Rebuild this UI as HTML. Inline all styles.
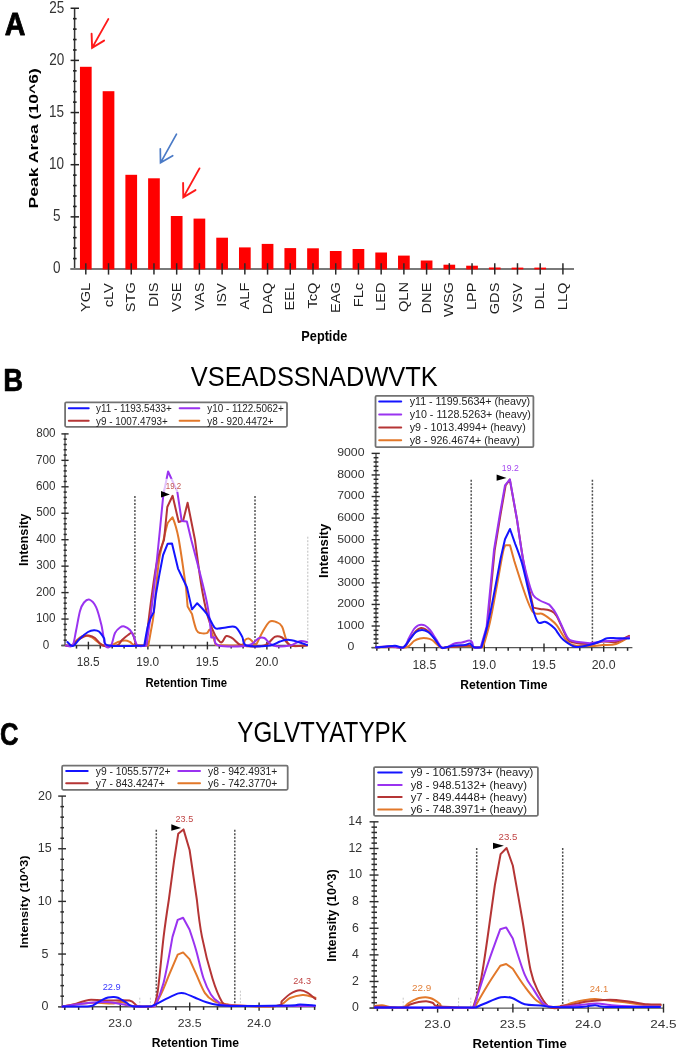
<!DOCTYPE html>
<html><head><meta charset="utf-8"><title>Figure</title>
<style>
html,body{margin:0;padding:0;background:#fff;}
body{width:677px;height:1050px;overflow:hidden;}
svg{display:block;font-family:"Liberation Sans",sans-serif;will-change:transform;filter:blur(0.35px);}
</style></head><body>
<svg width="677" height="1050" viewBox="0 0 677 1050">
<rect x="0" y="0" width="677" height="1050" fill="#fff"/>
<text transform="translate(4.68,35.20) scale(0.8989,1)" font-size="31.83" fill="#000" font-weight="bold" stroke="#000" stroke-width="0.8" stroke-linejoin="round">A</text>
<line x1="74.60" y1="8.40" x2="74.60" y2="269.00" stroke="#333" stroke-width="1.5"/>
<line x1="70.60" y1="269.00" x2="79.00" y2="269.00" stroke="#222" stroke-width="1.5"/>
<line x1="73.00" y1="258.57" x2="76.60" y2="258.57" stroke="#222" stroke-width="1.6"/>
<line x1="73.00" y1="248.14" x2="76.60" y2="248.14" stroke="#222" stroke-width="1.6"/>
<line x1="73.00" y1="237.71" x2="76.60" y2="237.71" stroke="#222" stroke-width="1.6"/>
<line x1="73.00" y1="227.28" x2="76.60" y2="227.28" stroke="#222" stroke-width="1.6"/>
<line x1="70.60" y1="216.85" x2="79.00" y2="216.85" stroke="#222" stroke-width="1.5"/>
<line x1="73.00" y1="206.42" x2="76.60" y2="206.42" stroke="#222" stroke-width="1.6"/>
<line x1="73.00" y1="195.99" x2="76.60" y2="195.99" stroke="#222" stroke-width="1.6"/>
<line x1="73.00" y1="185.56" x2="76.60" y2="185.56" stroke="#222" stroke-width="1.6"/>
<line x1="73.00" y1="175.13" x2="76.60" y2="175.13" stroke="#222" stroke-width="1.6"/>
<line x1="70.60" y1="164.70" x2="79.00" y2="164.70" stroke="#222" stroke-width="1.5"/>
<line x1="73.00" y1="154.27" x2="76.60" y2="154.27" stroke="#222" stroke-width="1.6"/>
<line x1="73.00" y1="143.84" x2="76.60" y2="143.84" stroke="#222" stroke-width="1.6"/>
<line x1="73.00" y1="133.41" x2="76.60" y2="133.41" stroke="#222" stroke-width="1.6"/>
<line x1="73.00" y1="122.98" x2="76.60" y2="122.98" stroke="#222" stroke-width="1.6"/>
<line x1="70.60" y1="112.55" x2="79.00" y2="112.55" stroke="#222" stroke-width="1.5"/>
<line x1="73.00" y1="102.12" x2="76.60" y2="102.12" stroke="#222" stroke-width="1.6"/>
<line x1="73.00" y1="91.69" x2="76.60" y2="91.69" stroke="#222" stroke-width="1.6"/>
<line x1="73.00" y1="81.26" x2="76.60" y2="81.26" stroke="#222" stroke-width="1.6"/>
<line x1="73.00" y1="70.83" x2="76.60" y2="70.83" stroke="#222" stroke-width="1.6"/>
<line x1="70.60" y1="60.40" x2="79.00" y2="60.40" stroke="#222" stroke-width="1.5"/>
<line x1="73.00" y1="49.97" x2="76.60" y2="49.97" stroke="#222" stroke-width="1.6"/>
<line x1="73.00" y1="39.54" x2="76.60" y2="39.54" stroke="#222" stroke-width="1.6"/>
<line x1="73.00" y1="29.11" x2="76.60" y2="29.11" stroke="#222" stroke-width="1.6"/>
<line x1="73.00" y1="18.68" x2="76.60" y2="18.68" stroke="#222" stroke-width="1.6"/>
<line x1="70.60" y1="8.25" x2="79.00" y2="8.25" stroke="#222" stroke-width="1.5"/>
<text transform="translate(53.04,273.39) scale(0.8329,1)" font-size="16.24" fill="#333">0</text>
<text transform="translate(53.05,221.16) scale(0.8329,1)" font-size="16.24" fill="#333">5</text>
<text transform="translate(49.03,169.09) scale(0.8329,1)" font-size="16.24" fill="#333">10</text>
<text transform="translate(49.05,116.86) scale(0.8329,1)" font-size="16.24" fill="#333">15</text>
<text transform="translate(49.20,64.79) scale(0.8329,1)" font-size="16.24" fill="#333">20</text>
<text transform="translate(49.22,12.64) scale(0.8329,1)" font-size="16.24" fill="#333">25</text>
<line x1="70.60" y1="269.00" x2="574.00" y2="269.00" stroke="#7a7a7a" stroke-width="2.0"/>
<rect x="79.95" y="66.80" width="11.7" height="202.60" fill="#ff0000"/>
<rect x="102.67" y="91.20" width="11.7" height="178.20" fill="#ff0000"/>
<rect x="125.39" y="174.80" width="11.7" height="94.60" fill="#ff0000"/>
<rect x="148.11" y="178.30" width="11.7" height="91.10" fill="#ff0000"/>
<rect x="170.83" y="216.00" width="11.7" height="53.40" fill="#ff0000"/>
<rect x="193.55" y="218.60" width="11.7" height="50.80" fill="#ff0000"/>
<rect x="216.27" y="237.70" width="11.7" height="31.70" fill="#ff0000"/>
<rect x="238.99" y="247.40" width="11.7" height="22.00" fill="#ff0000"/>
<rect x="261.71" y="243.90" width="11.7" height="25.50" fill="#ff0000"/>
<rect x="284.43" y="248.10" width="11.7" height="21.30" fill="#ff0000"/>
<rect x="307.15" y="248.30" width="11.7" height="21.10" fill="#ff0000"/>
<rect x="329.87" y="251.00" width="11.7" height="18.40" fill="#ff0000"/>
<rect x="352.59" y="249.00" width="11.7" height="20.40" fill="#ff0000"/>
<rect x="375.31" y="252.50" width="11.7" height="16.90" fill="#ff0000"/>
<rect x="398.03" y="255.60" width="11.7" height="13.80" fill="#ff0000"/>
<rect x="420.75" y="260.50" width="11.7" height="8.90" fill="#ff0000"/>
<rect x="443.47" y="264.70" width="11.7" height="4.70" fill="#ff0000"/>
<rect x="466.19" y="265.70" width="11.7" height="3.70" fill="#ff0000"/>
<rect x="488.91" y="267.50" width="11.7" height="1.90" fill="#ff0000"/>
<rect x="511.63" y="267.60" width="11.7" height="1.80" fill="#ff0000"/>
<rect x="534.35" y="267.60" width="11.7" height="1.80" fill="#ff0000"/>
<line x1="85.80" y1="263.20" x2="85.80" y2="274.60" stroke="#2a2a2a" stroke-width="1.5"/>
<line x1="108.52" y1="263.20" x2="108.52" y2="274.60" stroke="#2a2a2a" stroke-width="1.5"/>
<line x1="131.24" y1="263.20" x2="131.24" y2="274.60" stroke="#2a2a2a" stroke-width="1.5"/>
<line x1="153.96" y1="263.20" x2="153.96" y2="274.60" stroke="#2a2a2a" stroke-width="1.5"/>
<line x1="176.68" y1="263.20" x2="176.68" y2="274.60" stroke="#2a2a2a" stroke-width="1.5"/>
<line x1="199.40" y1="263.20" x2="199.40" y2="274.60" stroke="#2a2a2a" stroke-width="1.5"/>
<line x1="222.12" y1="263.20" x2="222.12" y2="274.60" stroke="#2a2a2a" stroke-width="1.5"/>
<line x1="244.84" y1="263.20" x2="244.84" y2="274.60" stroke="#2a2a2a" stroke-width="1.5"/>
<line x1="267.56" y1="263.20" x2="267.56" y2="274.60" stroke="#2a2a2a" stroke-width="1.5"/>
<line x1="290.28" y1="263.20" x2="290.28" y2="274.60" stroke="#2a2a2a" stroke-width="1.5"/>
<line x1="313.00" y1="263.20" x2="313.00" y2="274.60" stroke="#2a2a2a" stroke-width="1.5"/>
<line x1="335.72" y1="263.20" x2="335.72" y2="274.60" stroke="#2a2a2a" stroke-width="1.5"/>
<line x1="358.44" y1="263.20" x2="358.44" y2="274.60" stroke="#2a2a2a" stroke-width="1.5"/>
<line x1="381.16" y1="263.20" x2="381.16" y2="274.60" stroke="#2a2a2a" stroke-width="1.5"/>
<line x1="403.88" y1="263.20" x2="403.88" y2="274.60" stroke="#2a2a2a" stroke-width="1.5"/>
<line x1="426.60" y1="263.20" x2="426.60" y2="274.60" stroke="#2a2a2a" stroke-width="1.5"/>
<line x1="449.32" y1="263.20" x2="449.32" y2="274.60" stroke="#2a2a2a" stroke-width="1.5"/>
<line x1="472.04" y1="263.20" x2="472.04" y2="274.60" stroke="#2a2a2a" stroke-width="1.5"/>
<line x1="494.76" y1="263.20" x2="494.76" y2="274.60" stroke="#2a2a2a" stroke-width="1.5"/>
<line x1="517.48" y1="263.20" x2="517.48" y2="274.60" stroke="#2a2a2a" stroke-width="1.5"/>
<line x1="540.20" y1="263.20" x2="540.20" y2="274.60" stroke="#2a2a2a" stroke-width="1.5"/>
<line x1="562.92" y1="263.20" x2="562.92" y2="274.60" stroke="#2a2a2a" stroke-width="1.5"/>
<text transform="translate(89.90,312.02) rotate(-90) scale(1.1450,1)" font-size="12.79" fill="#222">YGL</text>
<text transform="translate(112.62,307.28) rotate(-90) scale(1.1450,1)" font-size="12.79" fill="#222">cLV</text>
<text transform="translate(135.34,312.21) rotate(-90) scale(1.1450,1)" font-size="12.79" fill="#222">STG</text>
<text transform="translate(158.06,306.94) rotate(-90) scale(1.1450,1)" font-size="12.79" fill="#222">DIS</text>
<text transform="translate(180.78,311.88) rotate(-90) scale(1.1450,1)" font-size="12.79" fill="#222">VSE</text>
<text transform="translate(203.50,310.75) rotate(-90) scale(1.1450,1)" font-size="12.79" fill="#222">VAS</text>
<text transform="translate(226.22,306.74) rotate(-90) scale(1.1450,1)" font-size="12.79" fill="#222">ISV</text>
<text transform="translate(248.94,309.47) rotate(-90) scale(1.1450,1)" font-size="12.79" fill="#222">ALF</text>
<text transform="translate(271.66,314.23) rotate(-90) scale(1.1450,1)" font-size="12.79" fill="#222">DAQ</text>
<text transform="translate(294.38,310.40) rotate(-90) scale(1.1450,1)" font-size="12.79" fill="#222">EEL</text>
<text transform="translate(317.10,308.54) rotate(-90) scale(1.1450,1)" font-size="12.79" fill="#222">TcQ</text>
<text transform="translate(339.82,313.03) rotate(-90) scale(1.1450,1)" font-size="12.79" fill="#222">EAG</text>
<text transform="translate(362.54,307.23) rotate(-90) scale(1.1450,1)" font-size="12.79" fill="#222">FLc</text>
<text transform="translate(385.26,310.98) rotate(-90) scale(1.1450,1)" font-size="12.79" fill="#222">LED</text>
<text transform="translate(407.98,312.12) rotate(-90) scale(1.1450,1)" font-size="12.79" fill="#222">QLN</text>
<text transform="translate(430.70,313.49) rotate(-90) scale(1.1450,1)" font-size="12.79" fill="#222">DNE</text>
<text transform="translate(453.42,317.09) rotate(-90) scale(1.1450,1)" font-size="12.79" fill="#222">WSG</text>
<text transform="translate(476.14,310.10) rotate(-90) scale(1.1450,1)" font-size="12.79" fill="#222">LPP</text>
<text transform="translate(498.86,314.26) rotate(-90) scale(1.1450,1)" font-size="12.79" fill="#222">GDS</text>
<text transform="translate(521.58,312.43) rotate(-90) scale(1.1450,1)" font-size="12.79" fill="#222">VSV</text>
<text transform="translate(544.30,309.58) rotate(-90) scale(1.1450,1)" font-size="12.79" fill="#222">DLL</text>
<text transform="translate(567.02,310.18) rotate(-90) scale(1.1450,1)" font-size="12.79" fill="#222">LLQ</text>
<text transform="translate(301.35,341.48) scale(0.8466,1)" font-size="15.01" fill="#000" font-weight="bold">Peptide</text>
<text transform="translate(38.04,208.48) rotate(-90) scale(1.4241,1)" font-size="12.33" fill="#000" font-weight="bold">Peak Area (10^6)</text>
<path d="M108.3,19.1 L92.1,47.9 M91.6,33.7 L92.1,47.9 L104.1,40.6" fill="none" stroke="#ff1a1a" stroke-width="1.9" stroke-linecap="round" stroke-linejoin="miter"/>
<path d="M176.5,134.2 L160.5,162.8 M160.3,148.8 L160.5,162.8 L172.7,155.7" fill="none" stroke="#4a7ac6" stroke-width="1.7" stroke-linecap="round" stroke-linejoin="miter"/>
<path d="M199.5,168.4 L183.3,197.4 M183.1,183.0 L183.3,197.4 L195.5,190.1" fill="none" stroke="#ff1a1a" stroke-width="1.9" stroke-linecap="round" stroke-linejoin="miter"/>
<text transform="translate(3.35,391.40) scale(0.8938,1)" font-size="30.81" fill="#000" font-weight="bold" stroke="#000" stroke-width="0.6" stroke-linejoin="round">B</text>
<text transform="translate(190.77,386.32) scale(0.8993,1)" font-size="28.25" fill="#000">VSEADSSNADWVTK</text>
<line x1="65.00" y1="433.60" x2="65.00" y2="645.50" stroke="#555" stroke-width="1.4"/>
<line x1="61.40" y1="645.50" x2="68.60" y2="645.50" stroke="#2a2a2a" stroke-width="1.4"/>
<text transform="translate(42.66,648.68) scale(0.9603,1)" font-size="12.15" fill="#333">0</text>
<line x1="63.60" y1="640.21" x2="66.80" y2="640.21" stroke="#2a2a2a" stroke-width="1.5"/>
<line x1="63.60" y1="634.92" x2="66.80" y2="634.92" stroke="#2a2a2a" stroke-width="1.5"/>
<line x1="63.60" y1="629.63" x2="66.80" y2="629.63" stroke="#2a2a2a" stroke-width="1.5"/>
<line x1="63.60" y1="624.34" x2="66.80" y2="624.34" stroke="#2a2a2a" stroke-width="1.5"/>
<line x1="61.40" y1="619.05" x2="68.60" y2="619.05" stroke="#2a2a2a" stroke-width="1.4"/>
<text transform="translate(35.96,622.23) scale(0.9603,1)" font-size="12.15" fill="#333">100</text>
<line x1="63.60" y1="613.76" x2="66.80" y2="613.76" stroke="#2a2a2a" stroke-width="1.5"/>
<line x1="63.60" y1="608.47" x2="66.80" y2="608.47" stroke="#2a2a2a" stroke-width="1.5"/>
<line x1="63.60" y1="603.18" x2="66.80" y2="603.18" stroke="#2a2a2a" stroke-width="1.5"/>
<line x1="63.60" y1="597.89" x2="66.80" y2="597.89" stroke="#2a2a2a" stroke-width="1.5"/>
<line x1="61.40" y1="592.60" x2="68.60" y2="592.60" stroke="#2a2a2a" stroke-width="1.4"/>
<text transform="translate(36.11,595.78) scale(0.9603,1)" font-size="12.15" fill="#333">200</text>
<line x1="63.60" y1="587.31" x2="66.80" y2="587.31" stroke="#2a2a2a" stroke-width="1.5"/>
<line x1="63.60" y1="582.02" x2="66.80" y2="582.02" stroke="#2a2a2a" stroke-width="1.5"/>
<line x1="63.60" y1="576.73" x2="66.80" y2="576.73" stroke="#2a2a2a" stroke-width="1.5"/>
<line x1="63.60" y1="571.44" x2="66.80" y2="571.44" stroke="#2a2a2a" stroke-width="1.5"/>
<line x1="61.40" y1="566.15" x2="68.60" y2="566.15" stroke="#2a2a2a" stroke-width="1.4"/>
<text transform="translate(36.18,569.33) scale(0.9603,1)" font-size="12.15" fill="#333">300</text>
<line x1="63.60" y1="560.86" x2="66.80" y2="560.86" stroke="#2a2a2a" stroke-width="1.5"/>
<line x1="63.60" y1="555.57" x2="66.80" y2="555.57" stroke="#2a2a2a" stroke-width="1.5"/>
<line x1="63.60" y1="550.28" x2="66.80" y2="550.28" stroke="#2a2a2a" stroke-width="1.5"/>
<line x1="63.60" y1="544.99" x2="66.80" y2="544.99" stroke="#2a2a2a" stroke-width="1.5"/>
<line x1="61.40" y1="539.70" x2="68.60" y2="539.70" stroke="#2a2a2a" stroke-width="1.4"/>
<text transform="translate(36.27,542.88) scale(0.9603,1)" font-size="12.15" fill="#333">400</text>
<line x1="63.60" y1="534.41" x2="66.80" y2="534.41" stroke="#2a2a2a" stroke-width="1.5"/>
<line x1="63.60" y1="529.12" x2="66.80" y2="529.12" stroke="#2a2a2a" stroke-width="1.5"/>
<line x1="63.60" y1="523.83" x2="66.80" y2="523.83" stroke="#2a2a2a" stroke-width="1.5"/>
<line x1="63.60" y1="518.54" x2="66.80" y2="518.54" stroke="#2a2a2a" stroke-width="1.5"/>
<line x1="61.40" y1="513.25" x2="68.60" y2="513.25" stroke="#2a2a2a" stroke-width="1.4"/>
<text transform="translate(36.17,516.43) scale(0.9603,1)" font-size="12.15" fill="#333">500</text>
<line x1="63.60" y1="507.96" x2="66.80" y2="507.96" stroke="#2a2a2a" stroke-width="1.5"/>
<line x1="63.60" y1="502.67" x2="66.80" y2="502.67" stroke="#2a2a2a" stroke-width="1.5"/>
<line x1="63.60" y1="497.38" x2="66.80" y2="497.38" stroke="#2a2a2a" stroke-width="1.5"/>
<line x1="63.60" y1="492.09" x2="66.80" y2="492.09" stroke="#2a2a2a" stroke-width="1.5"/>
<line x1="61.40" y1="486.80" x2="68.60" y2="486.80" stroke="#2a2a2a" stroke-width="1.4"/>
<text transform="translate(36.10,489.98) scale(0.9603,1)" font-size="12.15" fill="#333">600</text>
<line x1="63.60" y1="481.51" x2="66.80" y2="481.51" stroke="#2a2a2a" stroke-width="1.5"/>
<line x1="63.60" y1="476.22" x2="66.80" y2="476.22" stroke="#2a2a2a" stroke-width="1.5"/>
<line x1="63.60" y1="470.93" x2="66.80" y2="470.93" stroke="#2a2a2a" stroke-width="1.5"/>
<line x1="63.60" y1="465.64" x2="66.80" y2="465.64" stroke="#2a2a2a" stroke-width="1.5"/>
<line x1="61.40" y1="460.35" x2="68.60" y2="460.35" stroke="#2a2a2a" stroke-width="1.4"/>
<text transform="translate(36.10,463.53) scale(0.9603,1)" font-size="12.15" fill="#333">700</text>
<line x1="63.60" y1="455.06" x2="66.80" y2="455.06" stroke="#2a2a2a" stroke-width="1.5"/>
<line x1="63.60" y1="449.77" x2="66.80" y2="449.77" stroke="#2a2a2a" stroke-width="1.5"/>
<line x1="63.60" y1="444.48" x2="66.80" y2="444.48" stroke="#2a2a2a" stroke-width="1.5"/>
<line x1="63.60" y1="439.19" x2="66.80" y2="439.19" stroke="#2a2a2a" stroke-width="1.5"/>
<line x1="61.40" y1="433.90" x2="68.60" y2="433.90" stroke="#2a2a2a" stroke-width="1.4"/>
<text transform="translate(36.15,437.08) scale(0.9603,1)" font-size="12.15" fill="#333">800</text>
<line x1="61.40" y1="645.50" x2="308.00" y2="645.50" stroke="#555" stroke-width="1.4"/>
<line x1="76.50" y1="645.50" x2="76.50" y2="648.60" stroke="#2a2a2a" stroke-width="1.5"/>
<line x1="88.40" y1="641.70" x2="88.40" y2="649.40" stroke="#2a2a2a" stroke-width="1.4"/>
<line x1="100.30" y1="645.50" x2="100.30" y2="648.60" stroke="#2a2a2a" stroke-width="1.5"/>
<line x1="112.20" y1="645.50" x2="112.20" y2="648.60" stroke="#2a2a2a" stroke-width="1.5"/>
<line x1="124.10" y1="645.50" x2="124.10" y2="648.60" stroke="#2a2a2a" stroke-width="1.5"/>
<line x1="136.00" y1="645.50" x2="136.00" y2="648.60" stroke="#2a2a2a" stroke-width="1.5"/>
<line x1="147.90" y1="641.70" x2="147.90" y2="649.40" stroke="#2a2a2a" stroke-width="1.4"/>
<line x1="159.80" y1="645.50" x2="159.80" y2="648.60" stroke="#2a2a2a" stroke-width="1.5"/>
<line x1="171.70" y1="645.50" x2="171.70" y2="648.60" stroke="#2a2a2a" stroke-width="1.5"/>
<line x1="183.60" y1="645.50" x2="183.60" y2="648.60" stroke="#2a2a2a" stroke-width="1.5"/>
<line x1="195.50" y1="645.50" x2="195.50" y2="648.60" stroke="#2a2a2a" stroke-width="1.5"/>
<line x1="207.40" y1="641.70" x2="207.40" y2="649.40" stroke="#2a2a2a" stroke-width="1.4"/>
<line x1="219.30" y1="645.50" x2="219.30" y2="648.60" stroke="#2a2a2a" stroke-width="1.5"/>
<line x1="231.20" y1="645.50" x2="231.20" y2="648.60" stroke="#2a2a2a" stroke-width="1.5"/>
<line x1="243.10" y1="645.50" x2="243.10" y2="648.60" stroke="#2a2a2a" stroke-width="1.5"/>
<line x1="255.00" y1="645.50" x2="255.00" y2="648.60" stroke="#2a2a2a" stroke-width="1.5"/>
<line x1="266.90" y1="641.70" x2="266.90" y2="649.40" stroke="#2a2a2a" stroke-width="1.4"/>
<line x1="278.80" y1="645.50" x2="278.80" y2="648.60" stroke="#2a2a2a" stroke-width="1.5"/>
<line x1="290.70" y1="645.50" x2="290.70" y2="648.60" stroke="#2a2a2a" stroke-width="1.5"/>
<line x1="302.60" y1="645.50" x2="302.60" y2="648.60" stroke="#2a2a2a" stroke-width="1.5"/>
<text transform="translate(76.70,666.37) scale(0.8900,1)" font-size="13.28" fill="#333">18.5</text>
<text transform="translate(136.18,666.37) scale(0.8900,1)" font-size="13.28" fill="#333">19.0</text>
<text transform="translate(195.70,666.37) scale(0.8900,1)" font-size="13.28" fill="#333">19.5</text>
<text transform="translate(255.34,666.37) scale(0.8900,1)" font-size="13.28" fill="#333">20.0</text>
<text transform="translate(145.44,686.67) scale(0.8677,1)" font-size="13.06" fill="#000" font-weight="bold">Retention Time</text>
<text transform="translate(28.07,566.05) rotate(-90) scale(0.9947,1)" font-size="12.79" fill="#000" font-weight="bold">Intensity</text>
<line x1="134.90" y1="495.90" x2="134.90" y2="645.50" stroke="#505050" stroke-width="1.5" stroke-dasharray="2 1.5"/>
<line x1="255.00" y1="495.90" x2="255.00" y2="645.50" stroke="#505050" stroke-width="1.5" stroke-dasharray="2 1.5"/>
<line x1="307.80" y1="536.70" x2="307.80" y2="645.50" stroke="#bdbdbd" stroke-width="1.0" stroke-dasharray="2 1.5"/>
<path d="M66.00,645.50 C67.00,645.50 70.17,646.42 72.00,645.50 C73.83,644.58 75.30,641.55 77.00,640.00 C78.70,638.45 80.62,636.95 82.20,636.20 C83.78,635.45 84.87,635.28 86.50,635.50 C88.13,635.72 89.92,636.25 92.00,637.50 C94.08,638.75 97.00,641.67 99.00,643.00 C101.00,644.33 102.00,645.08 104.00,645.50 C106.00,645.92 108.67,646.08 111.00,645.50 C113.33,644.92 115.67,642.83 118.00,642.00 C120.33,641.17 123.00,640.50 125.00,640.50 C127.00,640.50 128.28,641.17 130.00,642.00 C131.72,642.83 132.25,644.92 135.30,645.50 C138.35,646.08 148.30,645.50 148.30,645.50 C148.30,645.50 149.90,636.95 150.80,631.70 C151.70,626.45 152.62,623.45 153.70,614.00 C154.78,604.55 156.32,584.50 157.30,575.00 C158.28,565.50 158.57,562.83 159.60,557.00 C160.63,551.17 162.22,545.45 163.50,540.00 C164.78,534.55 166.40,527.38 167.30,524.30 C168.20,521.22 168.02,522.67 168.90,521.50 C169.78,520.33 172.60,517.30 172.60,517.30 C172.60,517.30 176.25,526.10 178.50,538.00 C180.75,549.90 186.10,588.70 186.10,588.70 C186.10,588.70 187.60,606.50 187.60,606.50 C187.60,606.50 192.00,613.90 192.00,613.90 C192.00,613.90 195.02,626.90 196.50,630.10 C197.98,633.30 199.18,632.60 200.90,633.10 C202.62,633.60 205.20,633.60 206.80,633.10 C208.40,632.60 209.02,628.12 210.50,630.10 C211.98,632.08 215.70,645.00 215.70,645.00 C215.70,645.00 236.12,645.83 241.00,645.00 C245.88,644.17 243.75,641.08 245.00,640.00 C246.25,638.92 247.33,638.33 248.50,638.50 C249.67,638.67 250.83,639.83 252.00,641.00 C253.17,642.17 253.83,646.83 255.50,645.50 C257.17,644.17 259.67,636.97 262.00,633.00 C264.33,629.03 267.15,623.53 269.50,621.70 C271.85,619.87 274.02,621.20 276.10,622.00 C278.18,622.80 279.78,622.67 282.00,626.50 C284.22,630.33 285.23,641.92 289.40,645.00 C293.57,648.08 304.07,645.00 307.00,645.00" fill="none" stroke="#e2782a" stroke-width="2.0" stroke-linejoin="round" stroke-linecap="round"/>
<path d="M66.00,645.50 C67.00,645.50 70.00,646.42 72.00,645.50 C74.00,644.58 76.00,641.50 78.00,640.00 C80.00,638.50 82.20,637.23 84.00,636.50 C85.80,635.77 86.97,635.35 88.80,635.60 C90.63,635.85 92.67,636.35 95.00,638.00 C97.33,639.65 99.15,644.25 102.80,645.50 C106.45,646.75 113.70,646.42 116.90,645.50 C120.10,644.58 120.15,641.75 122.00,640.00 C123.85,638.25 126.27,636.10 128.00,635.00 C129.73,633.90 131.07,631.65 132.40,633.40 C133.73,635.15 136.00,645.50 136.00,645.50 C136.00,645.50 145.60,645.50 145.60,645.50 C145.60,645.50 149.70,610.92 151.60,597.00 C153.50,583.08 154.93,571.50 157.00,562.00 C159.07,552.50 164.00,540.00 164.00,540.00 C164.00,540.00 167.30,507.00 167.30,507.00 C167.30,507.00 172.60,495.80 172.60,495.80 C172.60,495.80 178.70,522.00 178.70,522.00 C178.70,522.00 183.20,520.50 183.20,520.50 C183.20,520.50 187.60,502.80 187.60,502.80 C187.60,502.80 195.00,540.00 195.00,540.00 C195.00,540.00 199.93,577.92 202.40,591.70 C204.87,605.48 206.85,614.32 209.80,622.70 C212.75,631.08 217.35,639.78 220.10,642.00 C222.85,644.22 224.22,636.62 226.30,636.00 C228.38,635.38 229.98,636.72 232.60,638.30 C235.22,639.88 236.72,644.30 242.00,645.50 C247.28,646.70 258.85,646.95 264.30,645.50 C269.75,644.05 271.75,638.13 274.70,636.80 C277.65,635.47 279.28,636.05 282.00,637.50 C284.72,638.95 286.83,644.17 291.00,645.50 C295.17,646.83 304.33,645.50 307.00,645.50" fill="none" stroke="#b53535" stroke-width="2.0" stroke-linejoin="round" stroke-linecap="round"/>
<path d="M66.00,645.50 C67.10,645.50 70.93,647.92 72.60,645.50 C74.27,643.08 74.77,636.75 76.00,631.00 C77.23,625.25 78.67,615.75 80.00,611.00 C81.33,606.25 82.42,604.40 84.00,602.50 C85.58,600.60 87.47,598.80 89.50,599.60 C91.53,600.40 94.22,603.07 96.20,607.30 C98.18,611.53 99.85,618.63 101.40,625.00 C102.95,631.37 103.90,642.08 105.50,645.50 C107.10,648.92 109.42,647.58 111.00,645.50 C112.58,643.42 113.50,636.00 115.00,633.00 C116.50,630.00 118.45,628.58 120.00,627.50 C121.55,626.42 122.63,626.08 124.30,626.50 C125.97,626.92 128.38,628.25 130.00,630.00 C131.62,631.75 132.75,634.42 134.00,637.00 C135.25,639.58 135.43,644.08 137.50,645.50 C139.57,646.92 146.40,645.50 146.40,645.50 C146.40,645.50 150.52,617.58 152.60,600.00 C154.68,582.42 157.13,557.33 158.90,540.00 C160.67,522.67 163.20,496.00 163.20,496.00 C163.20,496.00 168.10,471.50 168.10,471.50 C168.10,471.50 177.30,491.70 177.30,491.70 C177.30,491.70 181.70,521.00 181.70,521.00 C181.70,521.00 186.90,521.50 186.90,521.50 C186.90,521.50 191.30,540.00 191.30,540.00 C191.30,540.00 203.48,585.75 206.80,602.00 C210.12,618.25 211.20,637.50 211.20,637.50 C211.20,637.50 215.00,637.50 215.00,637.50 C215.00,637.50 213.10,644.17 218.60,645.50 C224.10,646.83 241.37,646.70 248.00,645.50 C254.63,644.30 255.68,639.55 258.40,638.30 C261.12,637.05 261.83,636.80 264.30,638.00 C266.77,639.20 268.92,644.25 273.20,645.50 C277.48,646.75 285.57,646.22 290.00,645.50 C294.43,644.78 296.97,641.78 299.80,641.20 C302.63,640.62 305.80,641.87 307.00,642.00" fill="none" stroke="#9a33f0" stroke-width="2.0" stroke-linejoin="round" stroke-linecap="round"/>
<path d="M67.40,642.00 C68.00,642.58 69.90,644.92 71.00,645.50 C72.10,646.08 72.50,646.67 74.00,645.50 C75.50,644.33 77.67,640.75 80.00,638.50 C82.33,636.25 85.67,633.38 88.00,632.00 C90.33,630.62 92.17,630.28 94.00,630.20 C95.83,630.12 97.33,630.20 99.00,631.50 C100.67,632.80 102.38,635.67 104.00,638.00 C105.62,640.33 101.98,644.25 108.70,645.50 C115.42,646.75 144.30,645.50 144.30,645.50 C144.30,645.50 146.93,629.33 148.50,623.80 C150.07,618.27 153.70,612.30 153.70,612.30 C153.70,612.30 155.80,595.00 155.80,595.00 C155.80,595.00 159.40,574.30 159.40,574.30 C159.40,574.30 163.10,555.00 163.10,555.00 C163.10,555.00 167.70,543.70 167.70,543.70 C167.70,543.70 172.00,543.40 172.00,543.40 C172.00,543.40 178.00,568.60 178.00,568.60 C178.00,568.60 186.90,587.30 186.90,587.30 C186.90,587.30 192.00,609.40 192.00,609.40 C192.00,609.40 197.20,603.20 197.20,603.20 C197.20,603.20 203.97,609.92 206.80,613.90 C209.63,617.88 212.23,624.65 214.20,627.10 C216.17,629.55 216.63,628.53 218.60,628.60 C220.57,628.67 223.18,627.73 226.00,627.50 C228.82,627.27 232.80,625.65 235.50,627.20 C238.20,628.75 240.35,633.75 242.20,636.80 C244.05,639.85 241.93,644.05 246.60,645.50 C251.27,646.95 264.63,646.17 270.20,645.50 C275.77,644.83 277.03,642.45 280.00,641.50 C282.97,640.55 284.95,639.72 288.00,639.80 C291.05,639.88 295.12,641.13 298.30,642.00 C301.48,642.87 305.63,644.50 307.10,645.00" fill="none" stroke="#1414ff" stroke-width="2.0" stroke-linejoin="round" stroke-linecap="round"/>
<polygon points="161,491 161,497.6 169.9,494.4" fill="#000"/>
<rect x="163.2" y="478.8" width="19.6" height="13.2" fill="#fff" fill-opacity="0.7"/>
<text transform="translate(165.80,488.51) scale(0.8618,1)" font-size="9.18" fill="#c25656">19.2</text>
<rect x="65.1" y="402.35" width="221.90" height="24.45" rx="1.2" fill="#fff" stroke="#727272" stroke-width="1.8"/>
<line x1="68.80" y1="408.20" x2="88.70" y2="408.20" stroke="#1414ff" stroke-width="2.0" stroke-linecap="round"/>
<line x1="68.80" y1="420.80" x2="88.70" y2="420.80" stroke="#b53535" stroke-width="2.0" stroke-linecap="round"/>
<line x1="179.60" y1="408.20" x2="199.30" y2="408.20" stroke="#9a33f0" stroke-width="2.0" stroke-linecap="round"/>
<line x1="179.60" y1="420.80" x2="199.30" y2="420.80" stroke="#e2782a" stroke-width="2.0" stroke-linecap="round"/>
<text transform="translate(96.07,412.00) scale(0.9594,1)" font-size="10.31" fill="#222">y11 - 1193.5433+</text>
<text transform="translate(96.07,424.60) scale(0.9594,1)" font-size="10.31" fill="#222">y9 - 1007.4793+</text>
<text transform="translate(207.37,412.00) scale(0.9594,1)" font-size="10.31" fill="#222">y10 - 1122.5062+</text>
<text transform="translate(207.37,424.60) scale(0.9594,1)" font-size="10.31" fill="#222">y8 - 920.4472+</text>
<line x1="376.00" y1="453.40" x2="376.00" y2="647.60" stroke="#555" stroke-width="1.4"/>
<line x1="371.60" y1="647.60" x2="379.80" y2="647.60" stroke="#2a2a2a" stroke-width="1.4"/>
<text transform="translate(347.48,650.44) scale(1.1024,1)" font-size="11.16" fill="#333">0</text>
<line x1="373.60" y1="643.28" x2="378.40" y2="643.28" stroke="#2a2a2a" stroke-width="1.5"/>
<line x1="373.60" y1="638.97" x2="378.40" y2="638.97" stroke="#2a2a2a" stroke-width="1.5"/>
<line x1="373.60" y1="634.65" x2="378.40" y2="634.65" stroke="#2a2a2a" stroke-width="1.5"/>
<line x1="373.60" y1="630.34" x2="378.40" y2="630.34" stroke="#2a2a2a" stroke-width="1.5"/>
<line x1="371.60" y1="626.02" x2="379.80" y2="626.02" stroke="#2a2a2a" stroke-width="1.4"/>
<text transform="translate(336.99,628.86) scale(1.1024,1)" font-size="11.16" fill="#333">1000</text>
<line x1="373.60" y1="621.70" x2="378.40" y2="621.70" stroke="#2a2a2a" stroke-width="1.5"/>
<line x1="373.60" y1="617.39" x2="378.40" y2="617.39" stroke="#2a2a2a" stroke-width="1.5"/>
<line x1="373.60" y1="613.07" x2="378.40" y2="613.07" stroke="#2a2a2a" stroke-width="1.5"/>
<line x1="373.60" y1="608.76" x2="378.40" y2="608.76" stroke="#2a2a2a" stroke-width="1.5"/>
<line x1="371.60" y1="604.44" x2="379.80" y2="604.44" stroke="#2a2a2a" stroke-width="1.4"/>
<text transform="translate(337.15,607.28) scale(1.1024,1)" font-size="11.16" fill="#333">2000</text>
<line x1="373.60" y1="600.12" x2="378.40" y2="600.12" stroke="#2a2a2a" stroke-width="1.5"/>
<line x1="373.60" y1="595.81" x2="378.40" y2="595.81" stroke="#2a2a2a" stroke-width="1.5"/>
<line x1="373.60" y1="591.49" x2="378.40" y2="591.49" stroke="#2a2a2a" stroke-width="1.5"/>
<line x1="373.60" y1="587.18" x2="378.40" y2="587.18" stroke="#2a2a2a" stroke-width="1.5"/>
<line x1="371.60" y1="582.86" x2="379.80" y2="582.86" stroke="#2a2a2a" stroke-width="1.4"/>
<text transform="translate(337.23,585.70) scale(1.1024,1)" font-size="11.16" fill="#333">3000</text>
<line x1="373.60" y1="578.54" x2="378.40" y2="578.54" stroke="#2a2a2a" stroke-width="1.5"/>
<line x1="373.60" y1="574.23" x2="378.40" y2="574.23" stroke="#2a2a2a" stroke-width="1.5"/>
<line x1="373.60" y1="569.91" x2="378.40" y2="569.91" stroke="#2a2a2a" stroke-width="1.5"/>
<line x1="373.60" y1="565.60" x2="378.40" y2="565.60" stroke="#2a2a2a" stroke-width="1.5"/>
<line x1="371.60" y1="561.28" x2="379.80" y2="561.28" stroke="#2a2a2a" stroke-width="1.4"/>
<text transform="translate(337.32,564.12) scale(1.1024,1)" font-size="11.16" fill="#333">4000</text>
<line x1="373.60" y1="556.96" x2="378.40" y2="556.96" stroke="#2a2a2a" stroke-width="1.5"/>
<line x1="373.60" y1="552.65" x2="378.40" y2="552.65" stroke="#2a2a2a" stroke-width="1.5"/>
<line x1="373.60" y1="548.33" x2="378.40" y2="548.33" stroke="#2a2a2a" stroke-width="1.5"/>
<line x1="373.60" y1="544.02" x2="378.40" y2="544.02" stroke="#2a2a2a" stroke-width="1.5"/>
<line x1="371.60" y1="539.70" x2="379.80" y2="539.70" stroke="#2a2a2a" stroke-width="1.4"/>
<text transform="translate(337.21,542.54) scale(1.1024,1)" font-size="11.16" fill="#333">5000</text>
<line x1="373.60" y1="535.38" x2="378.40" y2="535.38" stroke="#2a2a2a" stroke-width="1.5"/>
<line x1="373.60" y1="531.07" x2="378.40" y2="531.07" stroke="#2a2a2a" stroke-width="1.5"/>
<line x1="373.60" y1="526.75" x2="378.40" y2="526.75" stroke="#2a2a2a" stroke-width="1.5"/>
<line x1="373.60" y1="522.44" x2="378.40" y2="522.44" stroke="#2a2a2a" stroke-width="1.5"/>
<line x1="371.60" y1="518.12" x2="379.80" y2="518.12" stroke="#2a2a2a" stroke-width="1.4"/>
<text transform="translate(337.15,520.96) scale(1.1024,1)" font-size="11.16" fill="#333">6000</text>
<line x1="373.60" y1="513.80" x2="378.40" y2="513.80" stroke="#2a2a2a" stroke-width="1.5"/>
<line x1="373.60" y1="509.49" x2="378.40" y2="509.49" stroke="#2a2a2a" stroke-width="1.5"/>
<line x1="373.60" y1="505.17" x2="378.40" y2="505.17" stroke="#2a2a2a" stroke-width="1.5"/>
<line x1="373.60" y1="500.86" x2="378.40" y2="500.86" stroke="#2a2a2a" stroke-width="1.5"/>
<line x1="371.60" y1="496.54" x2="379.80" y2="496.54" stroke="#2a2a2a" stroke-width="1.4"/>
<text transform="translate(337.15,499.38) scale(1.1024,1)" font-size="11.16" fill="#333">7000</text>
<line x1="373.60" y1="492.22" x2="378.40" y2="492.22" stroke="#2a2a2a" stroke-width="1.5"/>
<line x1="373.60" y1="487.91" x2="378.40" y2="487.91" stroke="#2a2a2a" stroke-width="1.5"/>
<line x1="373.60" y1="483.59" x2="378.40" y2="483.59" stroke="#2a2a2a" stroke-width="1.5"/>
<line x1="373.60" y1="479.28" x2="378.40" y2="479.28" stroke="#2a2a2a" stroke-width="1.5"/>
<line x1="371.60" y1="474.96" x2="379.80" y2="474.96" stroke="#2a2a2a" stroke-width="1.4"/>
<text transform="translate(337.20,477.80) scale(1.1024,1)" font-size="11.16" fill="#333">8000</text>
<line x1="373.60" y1="470.64" x2="378.40" y2="470.64" stroke="#2a2a2a" stroke-width="1.5"/>
<line x1="373.60" y1="466.33" x2="378.40" y2="466.33" stroke="#2a2a2a" stroke-width="1.5"/>
<line x1="373.60" y1="462.01" x2="378.40" y2="462.01" stroke="#2a2a2a" stroke-width="1.5"/>
<line x1="373.60" y1="457.70" x2="378.40" y2="457.70" stroke="#2a2a2a" stroke-width="1.5"/>
<line x1="371.60" y1="453.38" x2="379.80" y2="453.38" stroke="#2a2a2a" stroke-width="1.4"/>
<text transform="translate(337.17,456.22) scale(1.1024,1)" font-size="11.16" fill="#333">9000</text>
<line x1="371.60" y1="647.60" x2="632.40" y2="647.60" stroke="#555" stroke-width="1.4"/>
<line x1="376.84" y1="647.60" x2="376.84" y2="650.80" stroke="#2a2a2a" stroke-width="1.5"/>
<line x1="388.78" y1="647.60" x2="388.78" y2="650.80" stroke="#2a2a2a" stroke-width="1.5"/>
<line x1="400.72" y1="647.60" x2="400.72" y2="650.80" stroke="#2a2a2a" stroke-width="1.5"/>
<line x1="412.66" y1="647.60" x2="412.66" y2="650.80" stroke="#2a2a2a" stroke-width="1.5"/>
<line x1="424.60" y1="643.50" x2="424.60" y2="651.80" stroke="#2a2a2a" stroke-width="1.4"/>
<line x1="436.54" y1="647.60" x2="436.54" y2="650.80" stroke="#2a2a2a" stroke-width="1.5"/>
<line x1="448.48" y1="647.60" x2="448.48" y2="650.80" stroke="#2a2a2a" stroke-width="1.5"/>
<line x1="460.42" y1="647.60" x2="460.42" y2="650.80" stroke="#2a2a2a" stroke-width="1.5"/>
<line x1="472.36" y1="647.60" x2="472.36" y2="650.80" stroke="#2a2a2a" stroke-width="1.5"/>
<line x1="484.30" y1="643.50" x2="484.30" y2="651.80" stroke="#2a2a2a" stroke-width="1.4"/>
<line x1="496.24" y1="647.60" x2="496.24" y2="650.80" stroke="#2a2a2a" stroke-width="1.5"/>
<line x1="508.18" y1="647.60" x2="508.18" y2="650.80" stroke="#2a2a2a" stroke-width="1.5"/>
<line x1="520.12" y1="647.60" x2="520.12" y2="650.80" stroke="#2a2a2a" stroke-width="1.5"/>
<line x1="532.06" y1="647.60" x2="532.06" y2="650.80" stroke="#2a2a2a" stroke-width="1.5"/>
<line x1="544.00" y1="643.50" x2="544.00" y2="651.80" stroke="#2a2a2a" stroke-width="1.4"/>
<line x1="555.94" y1="647.60" x2="555.94" y2="650.80" stroke="#2a2a2a" stroke-width="1.5"/>
<line x1="567.88" y1="647.60" x2="567.88" y2="650.80" stroke="#2a2a2a" stroke-width="1.5"/>
<line x1="579.82" y1="647.60" x2="579.82" y2="650.80" stroke="#2a2a2a" stroke-width="1.5"/>
<line x1="591.76" y1="647.60" x2="591.76" y2="650.80" stroke="#2a2a2a" stroke-width="1.5"/>
<line x1="603.70" y1="643.50" x2="603.70" y2="651.80" stroke="#2a2a2a" stroke-width="1.4"/>
<line x1="615.64" y1="647.60" x2="615.64" y2="650.80" stroke="#2a2a2a" stroke-width="1.5"/>
<line x1="627.58" y1="647.60" x2="627.58" y2="650.80" stroke="#2a2a2a" stroke-width="1.5"/>
<text transform="translate(412.41,668.98) scale(1.0252,1)" font-size="12.01" fill="#333">18.5</text>
<text transform="translate(472.10,668.98) scale(1.0252,1)" font-size="12.01" fill="#333">19.0</text>
<text transform="translate(531.81,668.98) scale(1.0252,1)" font-size="12.01" fill="#333">19.5</text>
<text transform="translate(591.66,668.98) scale(1.0252,1)" font-size="12.01" fill="#333">20.0</text>
<text transform="translate(460.19,689.48) scale(1.0124,1)" font-size="11.97" fill="#000" font-weight="bold">Retention Time</text>
<text transform="translate(327.55,577.88) rotate(-90) scale(1.0936,1)" font-size="12.06" fill="#000" font-weight="bold">Intensity</text>
<line x1="471.20" y1="479.70" x2="471.20" y2="647.60" stroke="#505050" stroke-width="1.5" stroke-dasharray="2 1.5"/>
<line x1="592.40" y1="479.70" x2="592.40" y2="647.60" stroke="#505050" stroke-width="1.5" stroke-dasharray="2 1.5"/>
<path d="M376.00,647.30 C378.67,647.25 386.90,647.00 392.00,647.00 C397.10,647.00 402.93,648.30 406.60,647.30 C410.27,646.30 411.77,642.47 414.00,641.00 C416.23,639.53 418.00,638.97 420.00,638.50 C422.00,638.03 424.00,637.95 426.00,638.20 C428.00,638.45 429.55,638.48 432.00,640.00 C434.45,641.52 438.03,646.08 440.70,647.30 C443.37,648.52 444.78,647.47 448.00,647.30 C451.22,647.13 456.00,646.47 460.00,646.30 C464.00,646.13 469.67,646.13 472.00,646.30 C474.33,646.47 472.17,647.13 474.00,647.30 C475.83,647.47 483.00,647.30 483.00,647.30 C483.00,647.30 487.67,632.38 490.00,622.00 C492.33,611.62 494.83,596.67 497.00,585.00 C499.17,573.33 501.55,558.63 503.00,552.00 C504.45,545.37 505.70,545.20 505.70,545.20 C505.70,545.20 510.00,545.20 510.00,545.20 C510.00,545.20 514.30,561.00 514.30,561.00 C514.30,561.00 519.68,578.13 521.90,584.80 C524.12,591.47 525.85,596.57 527.60,601.00 C529.35,605.43 530.82,609.27 532.40,611.40 C533.98,613.53 535.52,613.40 537.10,613.80 C538.68,614.20 539.75,612.93 541.90,613.80 C544.05,614.67 547.55,617.10 550.00,619.00 C552.45,620.90 553.93,621.73 556.60,625.20 C559.27,628.67 563.12,636.48 566.00,639.80 C568.88,643.12 569.73,644.07 573.90,645.10 C578.07,646.13 586.15,646.02 591.00,646.00 C595.85,645.98 598.83,645.33 603.00,645.00 C607.17,644.67 611.67,645.30 616.00,644.00 C620.33,642.70 626.83,638.33 629.00,637.20" fill="none" stroke="#e2782a" stroke-width="2.0" stroke-linejoin="round" stroke-linecap="round"/>
<path d="M376.00,647.30 C378.67,647.17 387.33,646.50 392.00,646.50 C396.67,646.50 401.00,648.55 404.00,647.30 C407.00,646.05 408.00,641.72 410.00,639.00 C412.00,636.28 414.17,632.83 416.00,631.00 C417.83,629.17 419.33,628.25 421.00,628.00 C422.67,627.75 424.17,628.33 426.00,629.50 C427.83,630.67 429.50,632.03 432.00,635.00 C434.50,637.97 438.67,645.25 441.00,647.30 C443.33,649.35 442.83,647.52 446.00,647.30 C449.17,647.08 456.00,646.30 460.00,646.00 C464.00,645.70 467.67,645.28 470.00,645.50 C472.33,645.72 472.08,647.00 474.00,647.30 C475.92,647.60 481.50,647.30 481.50,647.30 C481.50,647.30 487.30,626.80 487.30,626.80 C487.30,626.80 494.70,550.00 494.70,550.00 C494.70,550.00 500.60,514.10 500.60,514.10 C500.60,514.10 505.60,485.50 505.60,485.50 C505.60,485.50 509.80,479.60 509.80,479.60 C509.80,479.60 517.10,520.30 517.10,520.30 C517.10,520.30 521.37,549.37 522.80,558.20 C524.23,567.03 525.70,573.30 525.70,573.30 C525.70,573.30 533.30,607.60 533.30,607.60 C533.30,607.60 537.22,608.52 540.00,609.00 C542.78,609.48 547.23,609.35 550.00,610.50 C552.77,611.65 553.72,611.23 556.60,615.90 C559.48,620.57 564.42,634.07 567.30,638.50 C570.18,642.93 569.95,641.58 573.90,642.50 C577.85,643.42 586.15,644.17 591.00,644.00 C595.85,643.83 598.83,641.83 603.00,641.50 C607.17,641.17 611.67,642.95 616.00,642.00 C620.33,641.05 626.83,636.83 629.00,635.80" fill="none" stroke="#b53535" stroke-width="2.0" stroke-linejoin="round" stroke-linecap="round"/>
<path d="M376.00,647.30 C378.33,647.13 385.45,646.30 390.00,646.30 C394.55,646.30 400.13,648.68 403.30,647.30 C406.47,645.92 407.22,641.05 409.00,638.00 C410.78,634.95 412.50,631.08 414.00,629.00 C415.50,626.92 416.80,626.22 418.00,625.50 C419.20,624.78 420.03,624.70 421.20,624.70 C422.37,624.70 423.53,624.62 425.00,625.50 C426.47,626.38 428.17,627.75 430.00,630.00 C431.83,632.25 434.08,636.12 436.00,639.00 C437.92,641.88 439.77,645.92 441.50,647.30 C443.23,648.68 444.23,647.93 446.40,647.30 C448.57,646.67 451.90,644.30 454.50,643.50 C457.10,642.70 459.57,642.98 462.00,642.50 C464.43,642.02 467.43,640.68 469.10,640.60 C470.77,640.52 471.18,640.88 472.00,642.00 C472.82,643.12 472.55,646.42 474.00,647.30 C475.45,648.18 480.70,647.30 480.70,647.30 C480.70,647.30 486.60,626.80 486.60,626.80 C486.60,626.80 494.00,550.00 494.00,550.00 C494.00,550.00 499.90,514.10 499.90,514.10 C499.90,514.10 505.00,485.30 505.00,485.30 C505.00,485.30 509.90,479.40 509.90,479.40 C509.90,479.40 517.10,520.00 517.10,520.00 C517.10,520.00 520.98,547.78 522.90,558.10 C524.82,568.42 526.87,575.72 528.60,581.90 C530.33,588.08 531.40,592.10 533.30,595.20 C535.20,598.30 537.62,599.07 540.00,600.50 C542.38,601.93 545.85,602.88 547.60,603.80 C549.35,604.72 549.00,604.20 550.50,606.00 C552.00,607.80 553.80,609.40 556.60,614.60 C559.40,619.80 564.42,632.77 567.30,637.20 C570.18,641.63 571.25,640.32 573.90,641.20 C576.55,642.08 580.32,642.18 583.20,642.50 C586.08,642.82 587.87,643.32 591.20,643.10 C594.53,642.88 598.98,641.63 603.20,641.20 C607.42,640.77 612.18,641.17 616.50,640.50 C620.82,639.83 627.00,637.75 629.10,637.20" fill="none" stroke="#9a33f0" stroke-width="2.0" stroke-linejoin="round" stroke-linecap="round"/>
<path d="M376.00,647.30 C377.50,647.22 381.83,647.05 385.00,646.80 C388.17,646.55 391.95,645.72 395.00,645.80 C398.05,645.88 400.80,648.43 403.30,647.30 C405.80,646.17 407.88,641.55 410.00,639.00 C412.12,636.45 414.00,633.50 416.00,632.00 C418.00,630.50 420.00,630.00 422.00,630.00 C424.00,630.00 426.00,630.67 428.00,632.00 C430.00,633.33 431.83,635.45 434.00,638.00 C436.17,640.55 439.00,645.75 441.00,647.30 C443.00,648.85 443.67,647.60 446.00,647.30 C448.33,647.00 451.83,645.88 455.00,645.50 C458.17,645.12 462.50,645.33 465.00,645.00 C467.50,644.67 468.50,643.12 470.00,643.50 C471.50,643.88 472.10,646.67 474.00,647.30 C475.90,647.93 481.40,647.30 481.40,647.30 C481.40,647.30 486.30,631.32 489.50,616.50 C492.70,601.68 500.60,558.40 500.60,558.40 C500.60,558.40 505.00,539.20 505.00,539.20 C505.00,539.20 510.00,529.00 510.00,529.00 C510.00,529.00 515.20,543.80 515.20,543.80 C515.20,543.80 519.83,555.75 521.90,562.90 C523.97,570.05 525.70,578.77 527.60,586.70 C529.50,594.63 533.30,610.50 533.30,610.50 C533.30,610.50 536.23,620.48 538.30,622.40 C540.37,624.32 543.00,621.02 545.70,622.00 C548.40,622.98 552.45,626.43 554.50,628.30 C556.55,630.17 556.53,631.28 558.00,633.20 C559.47,635.12 560.65,637.58 563.30,639.80 C565.95,642.02 570.80,645.38 573.90,646.50 C577.00,647.62 579.02,646.83 581.90,646.50 C584.78,646.17 588.10,645.38 591.20,644.50 C594.30,643.62 597.83,642.25 600.50,641.20 C603.17,640.15 604.53,638.70 607.20,638.20 C609.87,637.70 612.85,638.15 616.50,638.20 C620.15,638.25 627.00,638.45 629.10,638.50" fill="none" stroke="#1414ff" stroke-width="2.0" stroke-linejoin="round" stroke-linecap="round"/>
<polygon points="496.6,474.6 496.6,480.8 506.5,477.9" fill="#000"/>
<text transform="translate(501.84,471.41) scale(0.9914,1)" font-size="8.76" fill="#a446f0">19.2</text>
<rect x="375.5" y="395.9" width="157.90" height="51.20" rx="1.2" fill="#fff" stroke="#727272" stroke-width="1.8"/>
<line x1="379.20" y1="401.60" x2="401.20" y2="401.60" stroke="#1414ff" stroke-width="2.0" stroke-linecap="round"/>
<line x1="379.20" y1="414.50" x2="401.20" y2="414.50" stroke="#9a33f0" stroke-width="2.0" stroke-linecap="round"/>
<line x1="379.20" y1="427.50" x2="401.20" y2="427.50" stroke="#b53535" stroke-width="2.0" stroke-linecap="round"/>
<line x1="379.20" y1="440.30" x2="401.20" y2="440.30" stroke="#e2782a" stroke-width="2.0" stroke-linecap="round"/>
<text transform="translate(409.67,405.30) scale(0.9709,1)" font-size="11.01" fill="#222">y11 - 1199.5634+ (heavy)</text>
<text transform="translate(409.67,418.20) scale(0.9709,1)" font-size="11.01" fill="#222">y10 - 1128.5263+ (heavy)</text>
<text transform="translate(409.67,431.20) scale(0.9709,1)" font-size="11.01" fill="#222">y9 - 1013.4994+ (heavy)</text>
<text transform="translate(409.67,444.00) scale(0.9709,1)" font-size="11.01" fill="#222">y8 - 926.4674+ (heavy)</text>
<text transform="translate(-0.10,744.93) scale(0.8119,1)" font-size="31.64" fill="#000" font-weight="bold" stroke="#000" stroke-width="0.7" stroke-linejoin="round">C</text>
<text transform="translate(237.27,741.71) scale(0.8412,1)" font-size="28.81" fill="#000">YGLVTYATYPK</text>
<line x1="62.20" y1="796.10" x2="62.20" y2="1006.70" stroke="#555" stroke-width="1.4"/>
<line x1="58.20" y1="1006.70" x2="66.00" y2="1006.70" stroke="#2a2a2a" stroke-width="1.4"/>
<text transform="translate(41.52,1010.27) scale(0.9843,1)" font-size="12.71" fill="#333">0</text>
<line x1="60.40" y1="996.17" x2="64.00" y2="996.17" stroke="#2a2a2a" stroke-width="1.5"/>
<line x1="60.40" y1="985.64" x2="64.00" y2="985.64" stroke="#2a2a2a" stroke-width="1.5"/>
<line x1="60.40" y1="975.11" x2="64.00" y2="975.11" stroke="#2a2a2a" stroke-width="1.5"/>
<line x1="60.40" y1="964.58" x2="64.00" y2="964.58" stroke="#2a2a2a" stroke-width="1.5"/>
<line x1="58.20" y1="954.05" x2="66.00" y2="954.05" stroke="#2a2a2a" stroke-width="1.4"/>
<text transform="translate(41.53,957.56) scale(0.9843,1)" font-size="12.71" fill="#333">5</text>
<line x1="60.40" y1="943.52" x2="64.00" y2="943.52" stroke="#2a2a2a" stroke-width="1.5"/>
<line x1="60.40" y1="932.99" x2="64.00" y2="932.99" stroke="#2a2a2a" stroke-width="1.5"/>
<line x1="60.40" y1="922.46" x2="64.00" y2="922.46" stroke="#2a2a2a" stroke-width="1.5"/>
<line x1="60.40" y1="911.93" x2="64.00" y2="911.93" stroke="#2a2a2a" stroke-width="1.5"/>
<line x1="58.20" y1="901.40" x2="66.00" y2="901.40" stroke="#2a2a2a" stroke-width="1.4"/>
<text transform="translate(37.81,904.97) scale(0.9843,1)" font-size="12.71" fill="#333">10</text>
<line x1="60.40" y1="890.87" x2="64.00" y2="890.87" stroke="#2a2a2a" stroke-width="1.5"/>
<line x1="60.40" y1="880.34" x2="64.00" y2="880.34" stroke="#2a2a2a" stroke-width="1.5"/>
<line x1="60.40" y1="869.81" x2="64.00" y2="869.81" stroke="#2a2a2a" stroke-width="1.5"/>
<line x1="60.40" y1="859.28" x2="64.00" y2="859.28" stroke="#2a2a2a" stroke-width="1.5"/>
<line x1="58.20" y1="848.75" x2="66.00" y2="848.75" stroke="#2a2a2a" stroke-width="1.4"/>
<text transform="translate(37.83,852.26) scale(0.9843,1)" font-size="12.71" fill="#333">15</text>
<line x1="60.40" y1="838.22" x2="64.00" y2="838.22" stroke="#2a2a2a" stroke-width="1.5"/>
<line x1="60.40" y1="827.69" x2="64.00" y2="827.69" stroke="#2a2a2a" stroke-width="1.5"/>
<line x1="60.40" y1="817.16" x2="64.00" y2="817.16" stroke="#2a2a2a" stroke-width="1.5"/>
<line x1="60.40" y1="806.63" x2="64.00" y2="806.63" stroke="#2a2a2a" stroke-width="1.5"/>
<line x1="58.20" y1="796.10" x2="66.00" y2="796.10" stroke="#2a2a2a" stroke-width="1.4"/>
<text transform="translate(37.97,799.67) scale(0.9843,1)" font-size="12.71" fill="#333">20</text>
<line x1="58.20" y1="1006.70" x2="315.40" y2="1006.70" stroke="#555" stroke-width="1.4"/>
<line x1="64.78" y1="1006.70" x2="64.78" y2="1009.90" stroke="#2a2a2a" stroke-width="1.5"/>
<line x1="78.66" y1="1006.70" x2="78.66" y2="1009.90" stroke="#2a2a2a" stroke-width="1.5"/>
<line x1="92.54" y1="1006.70" x2="92.54" y2="1009.90" stroke="#2a2a2a" stroke-width="1.5"/>
<line x1="106.42" y1="1006.70" x2="106.42" y2="1009.90" stroke="#2a2a2a" stroke-width="1.5"/>
<line x1="120.30" y1="1002.50" x2="120.30" y2="1010.70" stroke="#2a2a2a" stroke-width="1.4"/>
<line x1="134.18" y1="1006.70" x2="134.18" y2="1009.90" stroke="#2a2a2a" stroke-width="1.5"/>
<line x1="148.06" y1="1006.70" x2="148.06" y2="1009.90" stroke="#2a2a2a" stroke-width="1.5"/>
<line x1="161.94" y1="1006.70" x2="161.94" y2="1009.90" stroke="#2a2a2a" stroke-width="1.5"/>
<line x1="175.82" y1="1006.70" x2="175.82" y2="1009.90" stroke="#2a2a2a" stroke-width="1.5"/>
<line x1="189.70" y1="1002.50" x2="189.70" y2="1010.70" stroke="#2a2a2a" stroke-width="1.4"/>
<line x1="203.58" y1="1006.70" x2="203.58" y2="1009.90" stroke="#2a2a2a" stroke-width="1.5"/>
<line x1="217.46" y1="1006.70" x2="217.46" y2="1009.90" stroke="#2a2a2a" stroke-width="1.5"/>
<line x1="231.34" y1="1006.70" x2="231.34" y2="1009.90" stroke="#2a2a2a" stroke-width="1.5"/>
<line x1="245.22" y1="1006.70" x2="245.22" y2="1009.90" stroke="#2a2a2a" stroke-width="1.5"/>
<line x1="259.10" y1="1002.50" x2="259.10" y2="1010.70" stroke="#2a2a2a" stroke-width="1.4"/>
<line x1="272.98" y1="1006.70" x2="272.98" y2="1009.90" stroke="#2a2a2a" stroke-width="1.5"/>
<line x1="286.86" y1="1006.70" x2="286.86" y2="1009.90" stroke="#2a2a2a" stroke-width="1.5"/>
<line x1="300.74" y1="1006.70" x2="300.74" y2="1009.90" stroke="#2a2a2a" stroke-width="1.5"/>
<line x1="314.62" y1="1006.70" x2="314.62" y2="1009.90" stroke="#2a2a2a" stroke-width="1.5"/>
<text transform="translate(108.29,1027.19) scale(1.0866,1)" font-size="11.30" fill="#333">23.0</text>
<text transform="translate(177.70,1027.19) scale(1.0866,1)" font-size="11.30" fill="#333">23.5</text>
<text transform="translate(247.09,1027.19) scale(1.0866,1)" font-size="11.30" fill="#333">24.0</text>
<text transform="translate(151.79,1047.07) scale(0.9591,1)" font-size="12.65" fill="#000" font-weight="bold">Retention Time</text>
<text transform="translate(28.05,948.25) rotate(-90) scale(1.1817,1)" font-size="10.76" fill="#000" font-weight="bold">Intensity (10^3)</text>
<line x1="156.30" y1="829.70" x2="156.30" y2="1006.70" stroke="#505050" stroke-width="1.5" stroke-dasharray="2 1.5"/>
<line x1="234.80" y1="829.70" x2="234.80" y2="1006.70" stroke="#505050" stroke-width="1.5" stroke-dasharray="2 1.5"/>
<line x1="139.80" y1="997.70" x2="139.80" y2="1006.50" stroke="#c8c8c8" stroke-width="1.0" stroke-dasharray="2 1.5"/>
<line x1="150.40" y1="997.70" x2="150.40" y2="1006.50" stroke="#c8c8c8" stroke-width="1.0" stroke-dasharray="2 1.5"/>
<line x1="240.40" y1="990.70" x2="240.40" y2="1006.50" stroke="#c8c8c8" stroke-width="1.0" stroke-dasharray="2 1.5"/>
<path d="M62.50,1006.50 C65.28,1006.08 73.47,1004.62 79.20,1004.00 C84.93,1003.38 91.48,1002.87 96.90,1002.80 C102.32,1002.73 107.52,1003.72 111.70,1003.60 C115.88,1003.48 118.30,1001.65 122.00,1002.10 C125.70,1002.55 128.43,1005.60 133.90,1006.30 C139.37,1007.00 154.80,1006.30 154.80,1006.30 C154.80,1006.30 159.75,997.00 162.20,991.60 C164.65,986.20 166.92,980.05 169.50,973.90 C172.08,967.75 177.70,954.70 177.70,954.70 C177.70,954.70 183.10,952.40 183.10,952.40 C183.10,952.40 189.50,959.10 189.50,959.10 C189.50,959.10 193.52,968.23 196.10,973.90 C198.68,979.57 202.03,988.55 205.00,993.10 C207.97,997.65 210.95,999.48 213.90,1001.20 C216.85,1002.92 219.27,1002.72 222.70,1003.40 C226.13,1004.08 225.62,1004.87 234.50,1005.30 C243.38,1005.73 266.75,1007.22 276.00,1006.00 C285.25,1004.78 285.60,999.83 290.00,998.00 C294.40,996.17 299.23,995.33 302.40,995.00 C305.57,994.67 306.83,995.53 309.00,996.00 C311.17,996.47 314.33,997.50 315.40,997.80" fill="none" stroke="#e2782a" stroke-width="2.0" stroke-linejoin="round" stroke-linecap="round"/>
<path d="M62.50,1006.50 C64.78,1006.02 71.82,1004.70 76.20,1003.60 C80.58,1002.50 84.12,1000.40 88.80,999.90 C93.48,999.40 97.53,1000.48 104.30,1000.60 C111.07,1000.72 123.73,999.65 129.40,1000.60 C135.07,1001.55 134.32,1005.35 138.30,1006.30 C142.28,1007.25 153.30,1006.30 153.30,1006.30 C153.30,1006.30 155.98,1003.17 157.70,991.60 C159.42,980.03 161.75,952.17 163.60,936.90 C165.45,921.63 168.80,900.00 168.80,900.00 C168.80,900.00 174.10,860.60 174.10,860.60 C174.10,860.60 178.20,833.80 178.20,833.80 C178.20,833.80 183.50,829.40 183.50,829.40 C183.50,829.40 189.60,850.00 189.60,850.00 C189.60,850.00 196.90,900.00 196.90,900.00 C196.90,900.00 199.42,923.85 202.00,936.90 C204.58,949.95 209.07,967.47 212.40,978.30 C215.73,989.13 219.30,997.45 222.00,1001.90 C224.70,1006.35 227.02,1004.37 228.60,1005.00 C230.18,1005.63 223.53,1005.53 231.50,1005.70 C239.47,1005.87 267.98,1006.78 276.40,1006.00 C284.82,1005.22 279.73,1003.00 282.00,1001.00 C284.27,999.00 287.00,995.78 290.00,994.00 C293.00,992.22 297.00,990.47 300.00,990.30 C303.00,990.13 305.43,991.55 308.00,993.00 C310.57,994.45 314.17,998.00 315.40,999.00" fill="none" stroke="#b53535" stroke-width="2.0" stroke-linejoin="round" stroke-linecap="round"/>
<path d="M62.50,1006.50 C67.00,1005.88 82.03,1003.53 89.50,1002.80 C96.97,1002.07 101.88,1001.85 107.30,1002.10 C112.72,1002.35 117.57,1003.60 122.00,1004.30 C126.43,1005.00 128.43,1005.97 133.90,1006.30 C139.37,1006.63 154.80,1006.30 154.80,1006.30 C154.80,1006.30 160.65,994.27 163.60,982.70 C166.55,971.13 172.50,936.90 172.50,936.90 C172.50,936.90 177.70,919.90 177.70,919.90 C177.70,919.90 183.10,917.70 183.10,917.70 C183.10,917.70 189.50,929.50 189.50,929.50 C189.50,929.50 193.77,942.07 196.10,950.20 C198.43,958.33 201.03,970.92 203.50,978.30 C205.97,985.68 208.43,990.57 210.90,994.50 C213.37,998.43 215.12,1000.07 218.30,1001.90 C221.48,1003.73 213.88,1004.82 230.00,1005.50 C246.12,1006.18 300.83,1005.92 315.00,1006.00" fill="none" stroke="#9a33f0" stroke-width="2.0" stroke-linejoin="round" stroke-linecap="round"/>
<path d="M62.50,1006.50 C67.00,1006.45 83.92,1006.70 89.50,1006.20 C95.08,1005.70 93.78,1004.60 96.00,1003.50 C98.22,1002.40 100.80,1000.60 102.80,999.60 C104.80,998.60 106.15,997.95 108.00,997.50 C109.85,997.05 112.23,996.85 113.90,996.90 C115.57,996.95 116.65,997.30 118.00,997.80 C119.35,998.30 120.50,999.03 122.00,999.90 C123.50,1000.77 125.27,1001.95 127.00,1003.00 C128.73,1004.05 128.27,1005.67 132.40,1006.20 C136.53,1006.73 151.80,1006.20 151.80,1006.20 C151.80,1006.20 155.23,1004.65 157.70,1003.40 C160.17,1002.15 163.15,1000.37 166.60,998.70 C170.05,997.03 175.45,994.28 178.40,993.40 C181.35,992.52 181.58,992.72 184.30,993.40 C187.02,994.08 191.00,996.03 194.70,997.50 C198.40,998.97 202.57,1000.97 206.50,1002.20 C210.43,1003.43 213.55,1004.27 218.30,1004.90 C223.05,1005.53 223.05,1005.90 235.00,1006.00 C246.95,1006.10 279.17,1005.75 290.00,1005.50 C300.83,1005.25 295.83,1004.50 300.00,1004.50 C304.17,1004.50 312.50,1005.33 315.00,1005.50" fill="none" stroke="#1414ff" stroke-width="2.0" stroke-linejoin="round" stroke-linecap="round"/>
<polygon points="171.3,824.2 171.3,830.7 181.0,828.0" fill="#000"/>
<text transform="translate(175.55,821.81) scale(0.9870,1)" font-size="9.18" fill="#c04545">23.5</text>
<text transform="translate(102.63,990.21) scale(0.9830,1)" font-size="9.46" fill="#3a3aff">22.9</text>
<text transform="translate(293.14,983.51) scale(0.9847,1)" font-size="9.32" fill="#c04545">24.3</text>
<rect x="62.1" y="765.7" width="225.60" height="24.10" rx="1.2" fill="#fff" stroke="#727272" stroke-width="1.8"/>
<line x1="66.20" y1="771.10" x2="87.70" y2="771.10" stroke="#1414ff" stroke-width="2.0" stroke-linecap="round"/>
<line x1="66.20" y1="783.20" x2="87.70" y2="783.20" stroke="#b53535" stroke-width="2.0" stroke-linecap="round"/>
<line x1="178.30" y1="771.10" x2="200.00" y2="771.10" stroke="#9a33f0" stroke-width="2.0" stroke-linecap="round"/>
<line x1="178.30" y1="783.20" x2="200.00" y2="783.20" stroke="#e2782a" stroke-width="2.0" stroke-linecap="round"/>
<text transform="translate(95.77,774.67) scale(0.9709,1)" font-size="10.64" fill="#222">y9 - 1055.5772+</text>
<text transform="translate(95.77,786.87) scale(0.9709,1)" font-size="10.64" fill="#222">y7 - 843.4247+</text>
<text transform="translate(208.07,774.67) scale(0.9709,1)" font-size="10.64" fill="#222">y8 - 942.4931+</text>
<text transform="translate(208.07,786.87) scale(0.9709,1)" font-size="10.64" fill="#222">y6 - 742.3770+</text>
<line x1="374.10" y1="821.80" x2="374.10" y2="1008.10" stroke="#555" stroke-width="1.4"/>
<line x1="369.60" y1="1008.10" x2="378.50" y2="1008.10" stroke="#2a2a2a" stroke-width="1.4"/>
<text transform="translate(352.08,1011.48) scale(1.0137,1)" font-size="12.15" fill="#333">0</text>
<line x1="371.50" y1="1002.78" x2="377.00" y2="1002.78" stroke="#2a2a2a" stroke-width="1.5"/>
<line x1="371.50" y1="997.46" x2="377.00" y2="997.46" stroke="#2a2a2a" stroke-width="1.5"/>
<line x1="371.50" y1="992.13" x2="377.00" y2="992.13" stroke="#2a2a2a" stroke-width="1.5"/>
<line x1="371.50" y1="986.81" x2="377.00" y2="986.81" stroke="#2a2a2a" stroke-width="1.5"/>
<line x1="369.60" y1="981.49" x2="378.50" y2="981.49" stroke="#2a2a2a" stroke-width="1.4"/>
<text transform="translate(352.08,984.93) scale(1.0137,1)" font-size="12.15" fill="#333">2</text>
<line x1="371.50" y1="976.17" x2="377.00" y2="976.17" stroke="#2a2a2a" stroke-width="1.5"/>
<line x1="371.50" y1="970.85" x2="377.00" y2="970.85" stroke="#2a2a2a" stroke-width="1.5"/>
<line x1="371.50" y1="965.52" x2="377.00" y2="965.52" stroke="#2a2a2a" stroke-width="1.5"/>
<line x1="371.50" y1="960.20" x2="377.00" y2="960.20" stroke="#2a2a2a" stroke-width="1.5"/>
<line x1="369.60" y1="954.88" x2="378.50" y2="954.88" stroke="#2a2a2a" stroke-width="1.4"/>
<text transform="translate(352.11,958.26) scale(1.0137,1)" font-size="12.15" fill="#333">4</text>
<line x1="371.50" y1="949.56" x2="377.00" y2="949.56" stroke="#2a2a2a" stroke-width="1.5"/>
<line x1="371.50" y1="944.24" x2="377.00" y2="944.24" stroke="#2a2a2a" stroke-width="1.5"/>
<line x1="371.50" y1="938.91" x2="377.00" y2="938.91" stroke="#2a2a2a" stroke-width="1.5"/>
<line x1="371.50" y1="933.59" x2="377.00" y2="933.59" stroke="#2a2a2a" stroke-width="1.5"/>
<line x1="369.60" y1="928.27" x2="378.50" y2="928.27" stroke="#2a2a2a" stroke-width="1.4"/>
<text transform="translate(352.03,931.65) scale(1.0137,1)" font-size="12.15" fill="#333">6</text>
<line x1="371.50" y1="922.95" x2="377.00" y2="922.95" stroke="#2a2a2a" stroke-width="1.5"/>
<line x1="371.50" y1="917.63" x2="377.00" y2="917.63" stroke="#2a2a2a" stroke-width="1.5"/>
<line x1="371.50" y1="912.30" x2="377.00" y2="912.30" stroke="#2a2a2a" stroke-width="1.5"/>
<line x1="371.50" y1="906.98" x2="377.00" y2="906.98" stroke="#2a2a2a" stroke-width="1.5"/>
<line x1="369.60" y1="901.66" x2="378.50" y2="901.66" stroke="#2a2a2a" stroke-width="1.4"/>
<text transform="translate(352.08,905.04) scale(1.0137,1)" font-size="12.15" fill="#333">8</text>
<line x1="371.50" y1="896.34" x2="377.00" y2="896.34" stroke="#2a2a2a" stroke-width="1.5"/>
<line x1="371.50" y1="891.02" x2="377.00" y2="891.02" stroke="#2a2a2a" stroke-width="1.5"/>
<line x1="371.50" y1="885.69" x2="377.00" y2="885.69" stroke="#2a2a2a" stroke-width="1.5"/>
<line x1="371.50" y1="880.37" x2="377.00" y2="880.37" stroke="#2a2a2a" stroke-width="1.5"/>
<line x1="369.60" y1="875.05" x2="378.50" y2="875.05" stroke="#2a2a2a" stroke-width="1.4"/>
<text transform="translate(348.43,878.43) scale(1.0137,1)" font-size="12.15" fill="#333">10</text>
<line x1="371.50" y1="869.73" x2="377.00" y2="869.73" stroke="#2a2a2a" stroke-width="1.5"/>
<line x1="371.50" y1="864.41" x2="377.00" y2="864.41" stroke="#2a2a2a" stroke-width="1.5"/>
<line x1="371.50" y1="859.08" x2="377.00" y2="859.08" stroke="#2a2a2a" stroke-width="1.5"/>
<line x1="371.50" y1="853.76" x2="377.00" y2="853.76" stroke="#2a2a2a" stroke-width="1.5"/>
<line x1="369.60" y1="848.44" x2="378.50" y2="848.44" stroke="#2a2a2a" stroke-width="1.4"/>
<text transform="translate(348.49,851.88) scale(1.0137,1)" font-size="12.15" fill="#333">12</text>
<line x1="371.50" y1="843.12" x2="377.00" y2="843.12" stroke="#2a2a2a" stroke-width="1.5"/>
<line x1="371.50" y1="837.80" x2="377.00" y2="837.80" stroke="#2a2a2a" stroke-width="1.5"/>
<line x1="371.50" y1="832.47" x2="377.00" y2="832.47" stroke="#2a2a2a" stroke-width="1.5"/>
<line x1="371.50" y1="827.15" x2="377.00" y2="827.15" stroke="#2a2a2a" stroke-width="1.5"/>
<line x1="369.60" y1="821.83" x2="378.50" y2="821.83" stroke="#2a2a2a" stroke-width="1.4"/>
<text transform="translate(348.36,825.21) scale(1.0137,1)" font-size="12.15" fill="#333">14</text>
<line x1="369.60" y1="1008.10" x2="664.00" y2="1008.10" stroke="#555" stroke-width="1.4"/>
<line x1="377.36" y1="1008.10" x2="377.36" y2="1011.10" stroke="#2a2a2a" stroke-width="1.5"/>
<line x1="392.42" y1="1008.10" x2="392.42" y2="1011.10" stroke="#2a2a2a" stroke-width="1.5"/>
<line x1="407.48" y1="1008.10" x2="407.48" y2="1011.10" stroke="#2a2a2a" stroke-width="1.5"/>
<line x1="422.54" y1="1008.10" x2="422.54" y2="1011.10" stroke="#2a2a2a" stroke-width="1.5"/>
<line x1="437.60" y1="1003.80" x2="437.60" y2="1012.60" stroke="#2a2a2a" stroke-width="1.4"/>
<line x1="452.66" y1="1008.10" x2="452.66" y2="1011.10" stroke="#2a2a2a" stroke-width="1.5"/>
<line x1="467.72" y1="1008.10" x2="467.72" y2="1011.10" stroke="#2a2a2a" stroke-width="1.5"/>
<line x1="482.78" y1="1008.10" x2="482.78" y2="1011.10" stroke="#2a2a2a" stroke-width="1.5"/>
<line x1="497.84" y1="1008.10" x2="497.84" y2="1011.10" stroke="#2a2a2a" stroke-width="1.5"/>
<line x1="512.90" y1="1003.80" x2="512.90" y2="1012.60" stroke="#2a2a2a" stroke-width="1.4"/>
<line x1="527.96" y1="1008.10" x2="527.96" y2="1011.10" stroke="#2a2a2a" stroke-width="1.5"/>
<line x1="543.02" y1="1008.10" x2="543.02" y2="1011.10" stroke="#2a2a2a" stroke-width="1.5"/>
<line x1="558.08" y1="1008.10" x2="558.08" y2="1011.10" stroke="#2a2a2a" stroke-width="1.5"/>
<line x1="573.14" y1="1008.10" x2="573.14" y2="1011.10" stroke="#2a2a2a" stroke-width="1.5"/>
<line x1="588.20" y1="1003.80" x2="588.20" y2="1012.60" stroke="#2a2a2a" stroke-width="1.4"/>
<line x1="603.26" y1="1008.10" x2="603.26" y2="1011.10" stroke="#2a2a2a" stroke-width="1.5"/>
<line x1="618.32" y1="1008.10" x2="618.32" y2="1011.10" stroke="#2a2a2a" stroke-width="1.5"/>
<line x1="633.38" y1="1008.10" x2="633.38" y2="1011.10" stroke="#2a2a2a" stroke-width="1.5"/>
<line x1="648.44" y1="1008.10" x2="648.44" y2="1011.10" stroke="#2a2a2a" stroke-width="1.5"/>
<line x1="663.50" y1="1003.80" x2="663.50" y2="1012.60" stroke="#2a2a2a" stroke-width="1.4"/>
<text transform="translate(424.35,1028.33) scale(1.1548,1)" font-size="11.72" fill="#333">23.0</text>
<text transform="translate(499.67,1028.33) scale(1.1548,1)" font-size="11.72" fill="#333">23.5</text>
<text transform="translate(574.95,1028.33) scale(1.1548,1)" font-size="11.72" fill="#333">24.0</text>
<text transform="translate(650.27,1028.33) scale(1.1548,1)" font-size="11.72" fill="#333">24.5</text>
<text transform="translate(472.42,1047.98) scale(1.0813,1)" font-size="12.11" fill="#000" font-weight="bold">Retention Time</text>
<text transform="translate(336.36,961.85) rotate(-90) scale(1.0265,1)" font-size="12.35" fill="#000" font-weight="bold">Intensity (10^3)</text>
<line x1="476.70" y1="848.00" x2="476.70" y2="1008.10" stroke="#505050" stroke-width="1.5" stroke-dasharray="2 1.5"/>
<line x1="562.70" y1="848.00" x2="562.70" y2="1008.10" stroke="#505050" stroke-width="1.5" stroke-dasharray="2 1.5"/>
<line x1="403.20" y1="997.70" x2="403.20" y2="1007.80" stroke="#c8c8c8" stroke-width="1.0" stroke-dasharray="2 1.5"/>
<line x1="458.60" y1="997.70" x2="458.60" y2="1007.80" stroke="#c8c8c8" stroke-width="1.0" stroke-dasharray="2 1.5"/>
<line x1="470.80" y1="997.70" x2="470.80" y2="1007.80" stroke="#c8c8c8" stroke-width="1.0" stroke-dasharray="2 1.5"/>
<line x1="568.80" y1="999.40" x2="568.80" y2="1007.80" stroke="#c8c8c8" stroke-width="1.0" stroke-dasharray="2 1.5"/>
<path d="M375.00,1006.00 C376.17,1005.88 379.17,1005.05 382.00,1005.30 C384.83,1005.55 388.47,1007.13 392.00,1007.50 C395.53,1007.87 400.53,1008.17 403.20,1007.50 C405.87,1006.83 406.15,1004.77 408.00,1003.50 C409.85,1002.23 412.47,1000.82 414.30,999.90 C416.13,998.98 417.15,998.45 419.00,998.00 C420.85,997.55 423.57,997.20 425.40,997.20 C427.23,997.20 428.52,997.55 430.00,998.00 C431.48,998.45 432.63,998.90 434.30,999.90 C435.97,1000.90 438.35,1002.73 440.00,1004.00 C441.65,1005.27 438.47,1006.87 444.20,1007.50 C449.93,1008.13 474.40,1007.80 474.40,1007.80 C474.40,1007.80 483.38,992.00 487.70,985.00 C492.02,978.00 500.30,965.80 500.30,965.80 C500.30,965.80 506.20,964.00 506.20,964.00 C506.20,964.00 512.80,968.70 512.80,968.70 C512.80,968.70 520.75,981.20 524.70,986.50 C528.65,991.80 532.57,997.17 536.50,1000.50 C540.43,1003.83 544.17,1005.53 548.30,1006.50 C552.43,1007.47 557.35,1006.88 561.30,1006.30 C565.25,1005.72 568.25,1004.00 572.00,1003.00 C575.75,1002.00 579.97,1000.97 583.80,1000.30 C587.63,999.63 591.25,999.00 595.00,999.00 C598.75,999.00 601.30,999.77 606.30,1000.30 C611.30,1000.83 618.75,1001.42 625.00,1002.20 C631.25,1002.98 637.85,1004.45 643.80,1005.00 C649.75,1005.55 657.88,1005.42 660.70,1005.50" fill="none" stroke="#e2782a" stroke-width="2.0" stroke-linejoin="round" stroke-linecap="round"/>
<path d="M375.00,1006.50 C379.67,1006.67 397.17,1007.83 403.00,1007.50 C408.83,1007.17 407.38,1005.40 410.00,1004.50 C412.62,1003.60 415.77,1002.62 418.70,1002.10 C421.63,1001.58 425.22,1001.25 427.60,1001.40 C429.98,1001.55 431.15,1002.18 433.00,1003.00 C434.85,1003.82 432.03,1005.50 438.70,1006.30 C445.37,1007.10 473.00,1007.80 473.00,1007.80 C473.00,1007.80 478.27,993.73 481.10,979.10 C483.93,964.47 490.00,920.00 490.00,920.00 C490.00,920.00 494.90,885.00 494.90,885.00 C494.90,885.00 500.60,854.10 500.60,854.10 C500.60,854.10 506.60,848.00 506.60,848.00 C506.60,848.00 512.80,865.50 512.80,865.50 C512.80,865.50 519.43,902.55 522.40,920.00 C525.37,937.45 528.00,958.38 530.60,970.20 C533.20,982.02 535.05,984.87 538.00,990.90 C540.95,996.93 544.87,1003.55 548.30,1006.40 C551.73,1009.25 556.38,1008.12 558.60,1008.00 C560.82,1007.88 559.70,1006.20 561.60,1005.70 C563.50,1005.20 565.68,1005.68 570.00,1005.00 C574.32,1004.32 580.83,1002.47 587.50,1001.60 C594.17,1000.73 603.12,999.80 610.00,999.80 C616.88,999.80 622.55,1000.85 628.80,1001.60 C635.05,1002.35 642.18,1003.80 647.50,1004.30 C652.82,1004.80 658.50,1004.55 660.70,1004.60" fill="none" stroke="#b53535" stroke-width="2.0" stroke-linejoin="round" stroke-linecap="round"/>
<path d="M375.00,1007.50 C391.45,1007.55 473.70,1007.80 473.70,1007.80 C473.70,1007.80 483.27,977.40 487.70,964.30 C492.13,951.20 500.30,929.20 500.30,929.20 C500.30,929.20 506.20,927.40 506.20,927.40 C506.20,927.40 512.80,938.50 512.80,938.50 C512.80,938.50 521.25,966.22 524.70,974.70 C528.15,983.18 530.55,984.73 533.50,989.40 C536.45,994.07 539.68,999.85 542.40,1002.70 C545.12,1005.55 546.70,1005.78 549.80,1006.50 C552.90,1007.22 555.97,1007.25 561.00,1007.00 C566.03,1006.75 574.02,1005.58 580.00,1005.00 C585.98,1004.42 591.90,1003.50 596.90,1003.50 C601.90,1003.50 604.48,1004.53 610.00,1005.00 C615.52,1005.47 621.67,1006.05 630.00,1006.30 C638.33,1006.55 655.00,1006.47 660.00,1006.50" fill="none" stroke="#9a33f0" stroke-width="2.0" stroke-linejoin="round" stroke-linecap="round"/>
<path d="M375.00,1007.50 C391.82,1007.50 475.90,1007.50 475.90,1007.50 C475.90,1007.50 480.62,1005.20 484.80,1003.50 C488.98,1001.80 496.45,998.22 501.00,997.30 C505.55,996.38 508.15,996.85 512.10,998.00 C516.05,999.15 519.90,1002.97 524.70,1004.20 C529.50,1005.43 536.23,1004.92 540.90,1005.40 C545.57,1005.88 545.87,1006.83 552.70,1007.10 C559.53,1007.37 574.85,1007.32 581.90,1007.00 C588.95,1006.68 590.93,1005.20 595.00,1005.20 C599.07,1005.20 595.47,1006.70 606.30,1007.00 C617.13,1007.30 651.05,1007.00 660.00,1007.00" fill="none" stroke="#1414ff" stroke-width="2.0" stroke-linejoin="round" stroke-linecap="round"/>
<polygon points="493.0,842.7 493.0,848.9 503.9,845.7" fill="#000"/>
<text transform="translate(498.52,839.72) scale(1.1393,1)" font-size="8.47" fill="#c04545">23.5</text>
<text transform="translate(412.00,990.51) scale(1.0516,1)" font-size="9.46" fill="#e2803a">22.9</text>
<text transform="translate(589.83,992.30) scale(1.1022,1)" font-size="8.60" fill="#e2803a">24.1</text>
<rect x="374.0" y="767.1" width="163.90" height="48.70" rx="1.2" fill="#fff" stroke="#727272" stroke-width="1.8"/>
<line x1="378.20" y1="772.50" x2="401.70" y2="772.50" stroke="#1414ff" stroke-width="2.0" stroke-linecap="round"/>
<line x1="378.20" y1="784.90" x2="401.70" y2="784.90" stroke="#9a33f0" stroke-width="2.0" stroke-linecap="round"/>
<line x1="378.20" y1="797.00" x2="401.70" y2="797.00" stroke="#b53535" stroke-width="2.0" stroke-linecap="round"/>
<line x1="378.20" y1="809.40" x2="401.70" y2="809.40" stroke="#e2782a" stroke-width="2.0" stroke-linecap="round"/>
<text transform="translate(410.67,776.42) scale(0.9709,1)" font-size="11.63" fill="#222">y9 - 1061.5973+ (heavy)</text>
<text transform="translate(410.67,788.82) scale(0.9709,1)" font-size="11.63" fill="#222">y8 - 948.5132+ (heavy)</text>
<text transform="translate(410.67,800.92) scale(0.9709,1)" font-size="11.63" fill="#222">y7 - 849.4448+ (heavy)</text>
<text transform="translate(410.67,813.32) scale(0.9709,1)" font-size="11.63" fill="#222">y6 - 748.3971+ (heavy)</text>
</svg>
</body></html>
